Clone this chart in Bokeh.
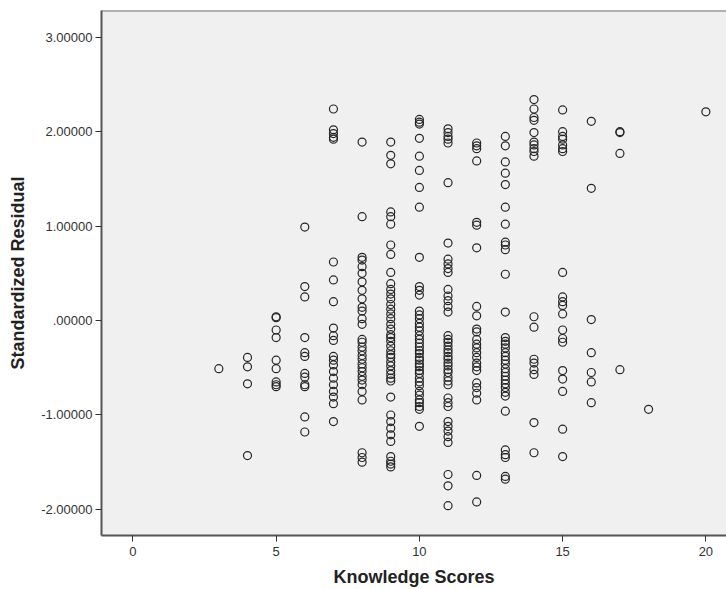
from bokeh.plotting import figure
from bokeh.models import Range1d, FixedTicker, Span
from bokeh.embed import file_html
from bokeh.resources import INLINE

# Standardized residuals read per knowledge score
res_3 = [-0.51]
res_4 = [-0.39, -0.49, -0.67, -1.43]
res_5 = [0.04, 0.03, -0.10, -0.18, -0.42, -0.51, -0.65, -0.68, -0.70]
res_6 = [0.99, 0.36, 0.25, -0.18, -0.34, -0.38, -0.56, -0.60, -0.68, -0.70, -1.02, -1.18]
res_7 = [2.24, 2.02, 1.98, 1.94, 1.92, 0.62, 0.43, 0.20, -0.08, -0.16, -0.21, -0.38,
         -0.42, -0.47, -0.54, -0.61, -0.68, -0.75, -0.81, -0.88, -1.07]
res_8 = [1.89, 1.10, 0.67, 0.64, 0.57, 0.50, 0.41, 0.32, 0.23, 0.14, 0.10, 0.02, -0.04,
         -0.20, -0.23, -0.28, -0.32, -0.37, -0.41, -0.46, -0.50, -0.54, -0.59, -0.63,
         -0.68, -0.75, -0.84, -1.40, -1.45, -1.50]
res_9 = [1.89, 1.75, 1.66, 1.15, 1.10, 1.02, 0.80, 0.70, 0.51, 0.39, 0.33, 0.28, 0.23,
         0.17, 0.12, 0.07, 0.02, -0.04, -0.09, -0.15, -0.18, -0.22, -0.27, -0.32, -0.36,
         -0.39, -0.44, -0.48, -0.53, -0.57, -0.61, -0.64, -0.81, -1.00, -1.07, -1.14,
         -1.21, -1.28, -1.44, -1.49, -1.52, -1.55]
res_10 = [2.13, 2.10, 2.08, 1.93, 1.74, 1.59, 1.41, 1.20, 0.67, 0.36, 0.32, 0.27, 0.10,
          0.06, 0.02, -0.03, -0.07, -0.11, -0.16, -0.20, -0.24, -0.28, -0.32, -0.35,
          -0.39, -0.42, -0.46, -0.49, -0.53, -0.56, -0.61, -0.65, -0.69, -0.75, -0.79,
          -0.84, -0.87, -0.91, -0.94, -1.12]
res_11 = [2.03, 1.99, 1.95, 1.92, 1.88, 1.46, 0.82, 0.65, 0.60, 0.55, 0.51, 0.33, 0.26,
          0.21, 0.15, 0.09, -0.16, -0.20, -0.23, -0.27, -0.31, -0.34, -0.38, -0.41,
          -0.45, -0.48, -0.52, -0.55, -0.60, -0.64, -0.68, -0.82, -0.87, -0.91, -1.07,
          -1.12, -1.17, -1.23, -1.29, -1.63, -1.75, -1.96]
res_12 = [1.88, 1.85, 1.82, 1.69, 1.04, 1.01, 0.77, 0.15, 0.05, -0.09, -0.12, -0.20,
          -0.25, -0.29, -0.34, -0.39, -0.45, -0.49, -0.53, -0.66, -0.71, -0.77, -0.84,
          -1.64, -1.92]
res_13 = [1.95, 1.85, 1.68, 1.56, 1.44, 1.20, 1.02, 0.83, 0.80, 0.75, 0.49, 0.09, -0.18,
          -0.22, -0.25, -0.29, -0.34, -0.38, -0.42, -0.46, -0.51, -0.55, -0.59, -0.63,
          -0.67, -0.71, -0.76, -0.80, -0.96, -1.37, -1.42, -1.45, -1.65, -1.68]
res_14 = [2.34, 2.24, 2.15, 2.12, 1.99, 1.89, 1.86, 1.82, 1.79, 1.74, 0.04, -0.07,
          -0.41, -0.45, -0.52, -0.57, -1.08, -1.40]
res_15 = [2.23, 2.00, 1.95, 1.92, 1.86, 1.82, 1.79, 0.51, 0.25, 0.20, 0.16, 0.07, -0.10,
          -0.19, -0.23, -0.53, -0.62, -0.75, -1.15, -1.44]
res_16 = [2.11, 1.40, 0.01, -0.34, -0.55, -0.65, -0.87]
res_17 = [2.00, 1.99, 1.77, -0.52]
res_18 = [-0.94]
res_20 = [2.21]

groups = {3: res_3, 4: res_4, 5: res_5, 6: res_6, 7: res_7, 8: res_8, 9: res_9,
          10: res_10, 11: res_11, 12: res_12, 13: res_13, 14: res_14, 15: res_15,
          16: res_16, 17: res_17, 18: res_18, 20: res_20}

knowledge = []
residual = []
for k, vals in groups.items():
    for v in vals:
        knowledge.append(k)
        residual.append(v)

x_ticks = [0, 5, 10, 15, 20]
y_ticks = [-2, -1, 0, 1, 2, 3]
y_tick_labels = ["-2.00000", "-1.00000", ".00000", "1.00000", "2.00000", "3.00000"]

FONT = "Liberation Sans"

p = figure(width=726, height=589, output_backend="svg", toolbar_location=None,
           x_range=Range1d(-1.096, 20.72), y_range=Range1d(-2.276, 3.283),
           min_border_left=101, min_border_right=0, min_border_top=10,
           min_border_bottom=40)

p.background_fill_color = "#F0F0F0"
p.border_fill_color = "white"
p.outline_line_color = None
p.grid.visible = False

p.scatter(knowledge, residual, marker="circle", size=8, fill_color=None,
          line_color="#262626", line_width=1.2)

top = Span(location=3.283, dimension="width", line_color="#6e6e6e", line_width=2)
p.add_layout(top)

for ax in (p.xaxis[0], p.yaxis[0]):
    ax.axis_line_color = "#555555"
    ax.axis_line_width = 2
    ax.major_tick_line_color = "#333333"
    ax.major_tick_line_width = 1
    ax.major_tick_in = 0
    ax.major_tick_out = 6
    ax.minor_tick_line_color = None
    ax.major_label_text_font = FONT
    ax.major_label_text_font_size = "13px"
    ax.major_label_text_color = "#333333"
    ax.axis_label_text_font = FONT
    ax.axis_label_text_font_size = "18px"
    ax.axis_label_text_font_style = "bold"
    ax.axis_label_text_color = "#222222"

p.xaxis.ticker = FixedTicker(ticks=x_ticks)
p.yaxis.ticker = FixedTicker(ticks=y_ticks)
p.yaxis.major_label_overrides = {t: l for t, l in zip(y_ticks, y_tick_labels)}
p.xaxis.axis_label = "Knowledge Scores"
p.yaxis.axis_label = "Standardized Residual"
p.xaxis.major_label_standoff = 5
p.yaxis.major_label_standoff = 3
p.xaxis.axis_label_standoff = 8
p.yaxis.axis_label_standoff = 10

open("out.html", "w").write(file_html(p, INLINE))
